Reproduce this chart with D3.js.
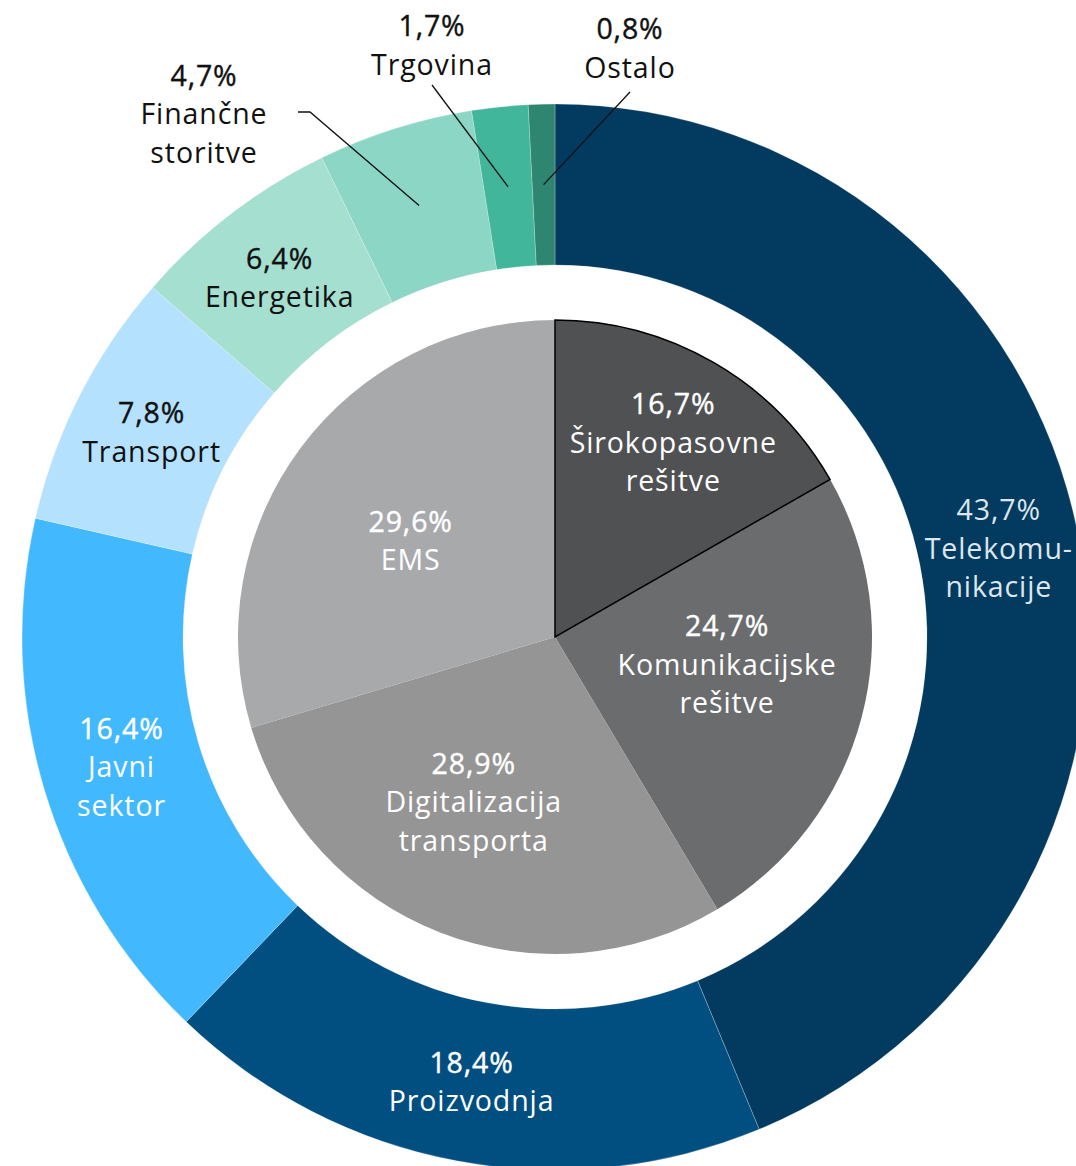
<!DOCTYPE html>
<html lang="sl">
<head>
  <meta charset="UTF-8">
  <title>Prihodki po segmentih</title>
  <script src="https://cdn.jsdelivr.net/npm/d3@7"></script>
  <style>
    body { margin: 0; background: #fff; }
    svg { display: block; }
  </style>
</head>
<body>
<div id="chart"></div>
<script>
  // zunanji obroč - industrije
  const outerNames = ['Telekomu-\nnikacije', 'Proizvodnja', 'Javni\nsektor', 'Transport', 'Energetika', 'Finančne\nstoritve', 'Trgovina', 'Ostalo'];
  const outerValues = [43.7, 18.4, 16.4, 7.8, 6.4, 4.7, 1.7, 0.8];
  const outerColors = ['#023b5f', '#014f80', '#42b8ff', '#b4e1fd', '#a4dfd0', '#8bd6c4', '#41b69a', '#2f8670'];
  const outerText = ['#dde6ee', '#fff', '#fff', '#111', '#111', '#111', '#111', '#111'];

  // notranja pita - rešitve
  const innerNames = ['Širokopasovne\nrešitve', 'Komunikacijske\nrešitve', 'Digitalizacija\ntransporta', 'EMS'];
  const innerValues = [16.7, 24.7, 28.9, 29.6];
  const innerColors = ['#505153', '#6b6c6e', '#959595', '#a8a9ab'];

  // postavitev
  const W = 1076, H = 1166;
  const cx = 555, cy = 637;
  const rOuter = 533, rRingIn = 372, rPie = 317;
  const lineH = 38.5;
  // oznake zunaj obroča (majhni deleži): odmik besedila od središča
  const callouts = {
    5: { dx: -351, dy: -523, lx: -245, ly: -525 },
    6: { dx: -123, dy: -592, lx: -123, ly: -552 },
    7: { dx: 75, dy: -589, lx: 75, ly: -545 }
  };
  // popravki oznak v notranji piti (glede na težišče pri r = 180)
  const innerNudge = [[28, -39], [-2, -18], [-16, -3], [0, 11]];

  const fmt = v => d3.format('.1f')(v).replace('.', ',') + '%';

  const svg = d3.select('#chart').append('svg')
    .attr('width', W).attr('height', H)
    .style('font-family', '"Open Sans", sans-serif');

  const g = svg.append('g').attr('transform', `translate(${cx},${cy})`);

  const pie = d3.pie().sort(null).value(d => d.value);

  const outerData = pie(outerValues.map((v, i) => ({ value: v, name: outerNames[i], i })));
  const innerData = pie(innerValues.map((v, i) => ({ value: v, name: innerNames[i], i })));

  const ringArc = d3.arc().innerRadius(rRingIn).outerRadius(rOuter);
  const ringLabel = d3.arc().innerRadius((rRingIn + rOuter) / 2).outerRadius((rRingIn + rOuter) / 2);
  const pieArc = d3.arc().innerRadius(0).outerRadius(rPie);
  const pieLabel = d3.arc().innerRadius(180).outerRadius(180);

  g.selectAll('path.ring')
    .data(outerData)
    .join('path')
    .attr('class', 'ring')
    .attr('d', ringArc)
    .attr('fill', d => outerColors[d.data.i])
    .attr('stroke', 'rgba(255,255,255,0.3)')
    .attr('stroke-width', 0.8);

  g.selectAll('path.slice')
    .data(innerData)
    .join('path')
    .attr('class', 'slice')
    .attr('d', pieArc)
    .attr('fill', d => innerColors[d.data.i])
    .attr('stroke', d => d.data.i === 0 ? '#000' : 'none')
    .attr('stroke-width', 1.5);

  // črta prvega izseka naj bo nad ostalimi
  g.selectAll('path.slice').filter(d => d.data.i === 0).raise();

  const drawLabel = (sel, x, y, pct, name, color, heavy) => {
    const lines = [pct].concat(name.split('\n'));
    const t = sel.append('text')
      .attr('text-anchor', 'middle')
      .attr('fill', color)
      .attr('font-size', 28.5)
      .attr('letter-spacing', 0.9);
    const y0 = y - (lines.length - 1) * lineH / 2;
    lines.forEach((ln, k) => {
      const s = t.append('tspan')
        .attr('x', x)
        .attr('y', y0 + k * lineH)
        .attr('dy', '0.36em')
        .text(ln);
      // odstotek malo debelejši
      if (k === 0 && heavy) s.attr('stroke', color).attr('stroke-width', 0.4);
    });
  };

  // oznake obroča
  outerData.forEach(d => {
    const i = d.data.i;
    const c = callouts[i];
    if (c) {
      const [ax, ay] = ringLabel.centroid(d);
      const pts = i === 5
        ? [[c.lx - 12, c.ly], [c.lx, c.ly], [ax, ay]]
        : [[c.lx, c.ly], [ax, ay]];
      g.append('path')
        .attr('d', d3.line()(pts))
        .attr('fill', 'none')
        .attr('stroke', '#111')
        .attr('stroke-width', 1.3);
      drawLabel(g, c.dx, c.dy, fmt(d.data.value), d.data.name, outerText[i], true);
    } else {
      const [x, y] = ringLabel.centroid(d);
      drawLabel(g, x, y, fmt(d.data.value), d.data.name, outerText[i], i !== 0);
    }
  });

  // oznake pite
  innerData.forEach(d => {
    const [x, y] = pieLabel.centroid(d);
    const [nx, ny] = innerNudge[d.data.i];
    drawLabel(g, x + nx, y + ny, fmt(d.data.value), d.data.name, '#fff', true);
  });
</script>
</body>
</html>
